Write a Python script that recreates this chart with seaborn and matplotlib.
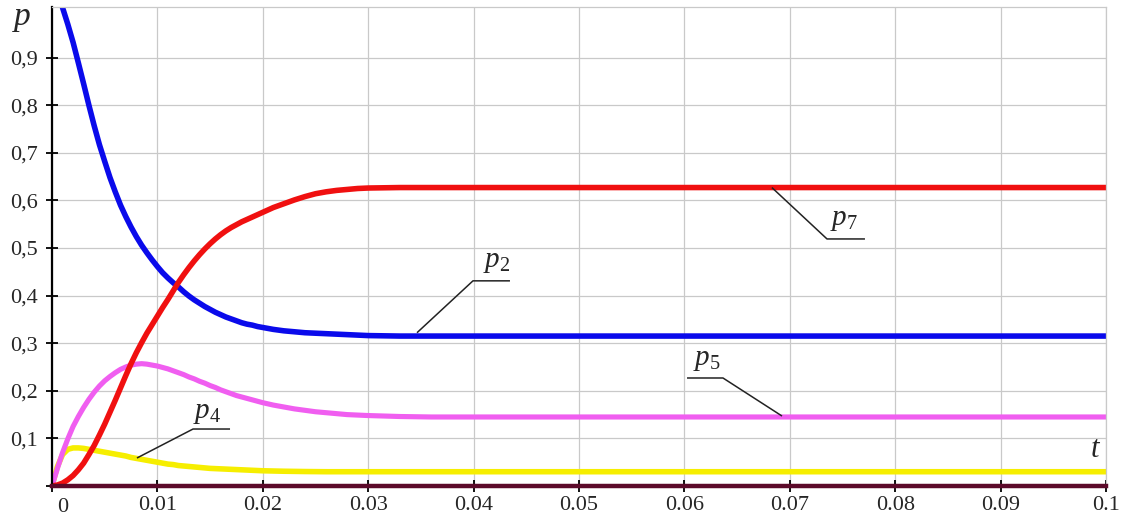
import matplotlib
matplotlib.use("Agg")
import matplotlib.pyplot as plt
import matplotlib.transforms as mtransforms
import pandas as pd
import seaborn as sns

# Time samples shared by p4, p5, p7
t = [0, 0.0005, 0.001, 0.0015, 0.002, 0.0025, 0.003, 0.0035, 0.004, 0.0045,
     0.005, 0.0055, 0.006, 0.0065, 0.007, 0.0075, 0.008, 0.0085, 0.009, 0.0095,
     0.010, 0.0105, 0.011, 0.0115, 0.012, 0.0125, 0.013, 0.0135, 0.014, 0.0145,
     0.015, 0.0155, 0.016, 0.0165, 0.017, 0.0175, 0.018, 0.0185, 0.019, 0.0195,
     0.020, 0.021, 0.022, 0.023, 0.024, 0.025, 0.026, 0.027, 0.028, 0.029,
     0.030, 0.033, 0.036, 0.040, 0.1]

p7 = [0, 0.002, 0.006, 0.013, 0.022, 0.034, 0.048, 0.066, 0.085, 0.107,
      0.130, 0.155, 0.180, 0.206, 0.232, 0.257, 0.280, 0.301, 0.321, 0.339,
      0.357, 0.375, 0.392, 0.410, 0.428, 0.444, 0.459, 0.473, 0.486, 0.498,
      0.509, 0.519, 0.528, 0.536, 0.543, 0.549, 0.555, 0.560, 0.565, 0.570,
      0.575, 0.585, 0.593, 0.601, 0.608, 0.614, 0.618, 0.621, 0.623, 0.625,
      0.626, 0.627, 0.627, 0.627, 0.627]

p5 = [0, 0.036, 0.070, 0.099, 0.125, 0.146, 0.165, 0.182, 0.197, 0.210,
      0.221, 0.230, 0.238, 0.245, 0.250, 0.254, 0.256, 0.257, 0.256, 0.254,
      0.252, 0.249, 0.246, 0.242, 0.238, 0.234, 0.229, 0.225, 0.220, 0.216,
      0.211, 0.207, 0.202, 0.198, 0.194, 0.190, 0.187, 0.184, 0.181, 0.178,
      0.175, 0.170, 0.166, 0.162, 0.159, 0.156, 0.154, 0.152, 0.150, 0.149,
      0.148, 0.146, 0.145, 0.145, 0.145]

p4 = [0, 0.040, 0.066, 0.077, 0.080, 0.080, 0.079, 0.077, 0.075, 0.073,
      0.071, 0.069, 0.067, 0.065, 0.063, 0.060, 0.058, 0.056, 0.054, 0.052,
      0.050, 0.048, 0.046, 0.045, 0.043, 0.042, 0.041, 0.040, 0.039, 0.038,
      0.037, 0.0365, 0.036, 0.0355, 0.035, 0.0345, 0.034, 0.0335, 0.033, 0.0325,
      0.032, 0.0315, 0.031, 0.0307, 0.0304, 0.0302, 0.030, 0.030, 0.030, 0.030,
      0.030, 0.030, 0.030, 0.030, 0.030]

# p2 enters the visible range at t = 0.001
t_p2 = t[2:]
p2 = [1.005, 0.970, 0.932, 0.889, 0.845, 0.800, 0.757, 0.717,
      0.682, 0.648, 0.618, 0.590, 0.566, 0.544, 0.524, 0.506, 0.490, 0.475,
      0.461, 0.448, 0.437, 0.427, 0.418, 0.408, 0.399, 0.391, 0.384, 0.377,
      0.371, 0.365, 0.360, 0.355, 0.351, 0.347, 0.343, 0.340, 0.338, 0.335,
      0.333, 0.329, 0.326, 0.324, 0.322, 0.321, 0.320, 0.319, 0.318, 0.317,
      0.316, 0.315, 0.315, 0.315, 0.315]

x_ticks = [0, 0.01, 0.02, 0.03, 0.04, 0.05, 0.06, 0.07, 0.08, 0.09, 0.1]
x_labels = ["", "0.01", "0.02", "0.03", "0.04", "0.05", "0.06", "0.07", "0.08", "0.09", "0.1"]
y_ticks = [0, 0.1, 0.2, 0.3, 0.4, 0.5, 0.6, 0.7, 0.8, 0.9]
y_labels = ["", "0,1", "0,2", "0,3", "0,4", "0,5", "0,6", "0,7", "0,8", "0,9"]

sns.set_theme(style="whitegrid")
plt.rcParams["font.family"] = ["Liberation Serif", "DejaVu Serif"]
plt.rcParams["mathtext.fontset"] = "custom"
plt.rcParams["mathtext.it"] = "Liberation Serif:italic"
plt.rcParams["mathtext.rm"] = "Liberation Serif"

W, H = 1127, 519
fig = plt.figure(figsize=(W / 100, H / 100), dpi=100)
fig.patch.set_facecolor("white")
ax = fig.add_axes([52 / W, 1 - 486 / H, (1106 - 52) / W, (486 - 7) / H])
ax.set_facecolor("white")

df = pd.DataFrame({"t": t, "p4": p4, "p5": p5, "p7": p7})
df2 = pd.DataFrame({"t": t_p2, "p2": p2})

lw = 4.0
common = dict(ax=ax, estimator=None, solid_joinstyle="round", solid_capstyle="round")
sns.lineplot(data=df, x="t", y="p4", color="#f6ee00", lw=lw, **common)
sns.lineplot(data=df, x="t", y="p5", color="#f05ef0", lw=3.7, **common)
sns.lineplot(data=df2, x="t", y="p2", color="#0a0aeb", lw=lw, **common)
sns.lineplot(data=df, x="t", y="p7", color="#f01010", lw=lw, **common)

ax.set_xlim(0, 0.1)
ax.set_ylim(0, 1.0063)
ax.set_xlabel("")
ax.set_ylabel("")

ax.set_xticks(x_ticks)
ax.set_xticklabels(x_labels)
ax.set_yticks(y_ticks)
ax.set_yticklabels(y_labels)

ax.grid(True, color="#c9c9c9", lw=0.9)
ax.tick_params(axis="x", direction="inout", length=8, width=1.3, color="black",
               labelsize=16, pad=3, bottom=True)
ax.tick_params(axis="y", direction="inout", length=8, width=1.3, color="black",
               labelsize=16, pad=6, left=True)

for side in ("top", "right"):
    ax.spines[side].set_color("#c9c9c9")
    ax.spines[side].set_linewidth(0.9)
ax.spines["left"].set_color("black")
ax.spines["left"].set_linewidth(1.6)
ax.spines["bottom"].set_color("#5c0a2a")
ax.spines["bottom"].set_linewidth(3.2)
ax.spines["bottom"].set_zorder(3)

# origin label on the time axis
ax.text(0.00105, -0.025, "0",
        transform=mtransforms.blended_transform_factory(ax.transData, ax.transAxes),
        ha="center", va="top", fontsize=16)

# axis names
fig.text(12 / W, 1 - 25 / H, "$p$", fontsize=24, ha="left", va="baseline")
ax.text(0.0985, 0.061, "$t$", fontsize=22, ha="left", va="baseline")

# curve labels with leader lines
leader = dict(color="#222222", lw=1.1, solid_capstyle="butt")
ax.plot([0.03463, 0.03994, 0.04345], [0.322, 0.431, 0.431], **leader)
ax.text(0.0409, 0.461, "$p_2$", fontsize=21, ha="left", va="baseline")

ax.plot([0.0683, 0.07353, 0.07713], [0.627, 0.519, 0.519], **leader)
ax.text(0.0738, 0.5475, "$p_7$", fontsize=21, ha="left", va="baseline")

ax.plot([0.06025, 0.06366, 0.06926], [0.2269, 0.2269, 0.147], **leader)
ax.text(0.0608, 0.2546, "$p_5$", fontsize=21, ha="left", va="baseline")

ax.plot([0.00806, 0.01338, 0.01689], [0.0588, 0.1197, 0.1197], **leader)
ax.text(0.01338, 0.1433, "$p_4$", fontsize=21, ha="left", va="baseline")

fig.savefig("out.png", dpi=100, facecolor="white")
